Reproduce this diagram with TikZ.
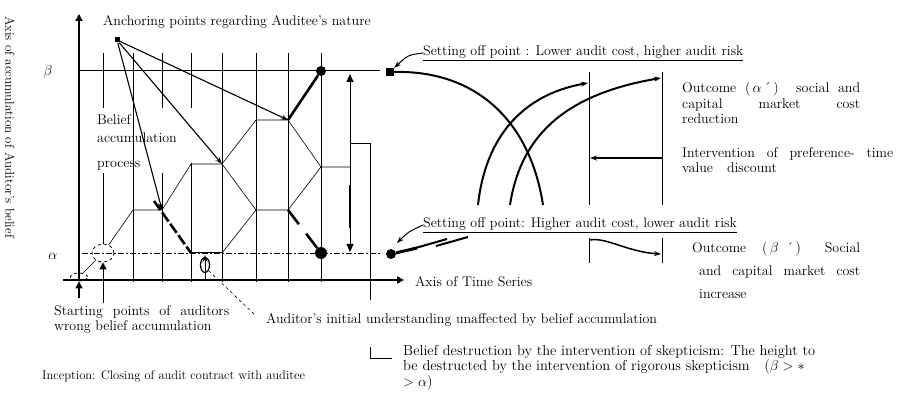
\documentclass[tikz,border=0pt]{standalone}
\usepackage{amsmath,amssymb}
\usetikzlibrary{arrows.meta,shapes.geometric,calc}
\begin{document}
\begin{tikzpicture}[x=1pt,y=-1pt,font=\fontsize{14}{15.5}\selectfont,>={Stealth[length=7pt,width=5pt]},
  lbl/.style={anchor=west,inner sep=0pt},
  blk/.style={anchor=north west,inner sep=0pt,align=justify},
  grid/.style={line width=1pt},
  zig/.style={line width=0.6pt},
  heavy/.style={line width=2.6pt},
  curve/.style={line width=2pt},
  tri/.style={-{Triangle[length=7pt,width=7pt]}},
  dot/.style={circle,fill,inner sep=0pt,minimum size=#1},
  ring/.style={draw,ellipse,inner sep=0pt,line width=0.8pt}]
\useasboundingbox (0,0) rectangle (899,395);
% axes and levels
\coordinate (xl) at (63,280); \coordinate (xr) at (404,280);
\coordinate (yb) at (79,280); \coordinate (yt) at (79,14);
\draw[line width=1.8pt,tri] (xl) -- (xr);
\draw[line width=1.3pt,tri] (yb) -- (yt);
\coordinate (bl) at (79,71); \coordinate (br) at (380,71);
\coordinate (al) at (82,253); \coordinate (ar) at (382,253);
\draw[grid] (bl) -- (br);
\draw[line width=0.9pt,dash pattern=on 6pt off 2pt on 2pt off 2pt] (al) -- (ar);
\foreach \x in {133,222,256,288,321} \draw[grid] (\x,53) -- (\x,282);
\foreach \x in {103,162,191} \draw[grid] (\x,53) -- (\x,108);
\draw[grid] (103,173) -- (103,244);
\draw[grid] (162,173) -- (162,282);
\draw[grid] (191,163) -- (191,282);
\node[font=\fontsize{14}{14}\selectfont] (beta) at (48,72) {$\beta$};
\node[font=\fontsize{14}{14}\selectfont] (alpha) at (53,256) {$\alpha$};
\node[rotate=-90,font=\fontsize{13}{14}\selectfont] (yax) at (10,127) {Axis of accumulation of Auditor's belief};
\node[lbl] (xax) at (415,282) {Axis of Time Series};
% belief accumulation path
\node[ring,dashed,minimum width=22pt,minimum height=18pt] (c1) at (103,253) {};
\node[ring,dashed,minimum width=17pt,minimum height=8pt] (c0) at (79,277) {};
\coordinate (z1) at (133,210); \coordinate (z2) at (162,210);
\coordinate (z3) at (191,164); \coordinate (z4) at (222,164);
\coordinate (z5) at (256,120); \coordinate (z6) at (288,120);
\coordinate (z7) at (321,167); \coordinate (z8) at (350,167);
\coordinate (z9) at (256,210); \coordinate (z10) at (288,210);
\coordinate (z11) at (222,253); \coordinate (z12) at (191,253);
\draw[zig] (c0) -- (c1) -- (z1) -- (z2) -- (z3) -- (z4) -- (z5) -- (z6) -- (z7) -- (z8);
\draw[zig] (z4) -- (z9) -- (z10) -- (z7);
\draw[zig] (z9) -- (z11);
\draw[grid] (z12) -- (z11);
\draw[line width=1.3pt,tri] (79,298) -- (c0.south);
\draw[grid,tri] (103,303) -- (c1.south);
% destruction by skepticism
\node[dot=10pt] (top) at (321,71) {};
\node[dot=12pt] (low) at (321,253) {};
\coordinate (hs) at (154,201);
\draw[heavy] (z6) -- (top);
\draw[heavy,dash pattern=on 11pt off 3pt] (hs) -- (z12);
\draw[heavy] (z10) -- ($(z10)!0.33!(low)$);
\draw[heavy] ($(z10)!0.55!(low)$) -- (low);
% anchoring
\node[fill,inner sep=0pt,minimum size=5pt] (anc) at (117,40) {};
\node[lbl] (anctxt) at (103,22) {Anchoring points regarding Auditee's nature};
\foreach \t in {z2,z4,z6} \draw[line width=1.1pt,->] (anc) -- (\t);
\node[anchor=north west,inner sep=0pt,align=left,font=\fontsize{14}{14}\selectfont] (proc) at (97,114) {Belief\\[4pt]accumulation\\[11pt]process};
% height to be destructed
\coordinate (da) at (350,252); \coordinate (db) at (350,74);
\draw[line width=1pt,{Triangle[length=8pt,width=7pt]}-{Triangle[length=8pt,width=7pt]}] (da) -- (db);
\draw[line width=2.6pt] (350,185) -- (350,228);
\draw[grid] (350,144) -- (370,144) -- (370,300);
\draw[grid] (370,347) -- (370,358) -- (392,358);
% initial understanding
\node[ring,line width=1.2pt,minimum width=9pt,minimum height=15pt] (ini) at (205,265) {};
\draw[line width=1pt,->] (205,281) -- (205,255);
\node[lbl] (initxt) at (266,320) {Auditor's initial understanding unaffected by belief accumulation};
\draw[zig,dashed] (ini.south east) -- ($(initxt.west)+(-11,-5)$);
\node[blk,text width=175pt] (start) at (54,305) {Starting points of auditors\linebreak wrong belief accumulation};
\node[lbl,font=\fontsize{12.5}{14}\selectfont] (incep) at (42,376) {Inception: Closing of audit contract with auditee};
\node[anchor=north west,inner sep=0pt,align=left,font=\fontsize{14.5}{15.5}\selectfont] (destr) at (403,345)
  {Belief destruction by the intervention of skepticism: The height to\\
   be destructed by the intervention of rigorous skepticism\quad($\beta>{\ast}$\\
   $>\alpha$)};
% setting off points
\node[fill,inner sep=0pt,minimum size=8pt] (sq) at (390,72) {};
\node[lbl] (lotxt) at (423,53) {\underline{Setting off point : Lower audit cost, higher audit risk}};
\draw[line width=1pt,->] (lotxt.west) .. controls (408,55) .. (sq.north east);
\node[dot=10pt] (sp) at (391,254) {};
\node[lbl] (hitxt) at (423,225) {\underline{Setting off point: Higher audit cost, lower audit risk}};
\coordinate (sp1) at (397,243);
\draw[line width=1pt,->] (hitxt.west) .. controls (408,232) .. (sp1);
\draw[line width=3pt] (sp) -- (417,248);
\draw[line width=2pt] (412,249) -- (447,239);
\draw[line width=2pt] (436,246) -- (468,237);
% outcome curves
\coordinate (k1) at (543,205); \coordinate (k2) at (478,205); \coordinate (k3) at (510,205);
\coordinate (a1) at (588,83); \coordinate (a2) at (661,78);
\draw[curve] (sq.east) .. controls (475,70) and (530,120) .. (k1);
\draw[curve,->] (k2) .. controls (485,140) and (520,95) .. (a1);
\draw[curve,->] (k3) .. controls (520,140) and (560,95) .. (a2);
\foreach \x in {589,662} {\draw[grid] (\x,72) -- (\x,205); \draw[grid] (\x,238) -- (\x,263);}
\coordinate (pr) at (662,158); \coordinate (pl) at (590,158);
\draw[line width=1.3pt,->] (pr) -- (pl);
\coordinate (ol) at (590,240); \coordinate (or) at (661,254);
\draw[line width=1.5pt,->] (ol) .. controls (606,237) and (628,252) .. (or);
\node[blk,text width=178pt] (outa) at (682,82) {Outcome\ (\,$\alpha$\,\'{}\,)\ \ social and\linebreak capital market cost\linebreak reduction};
\node[blk,text width=211pt] (pref) at (682,147) {Intervention of preference- time\linebreak value\quad discount};
\node[blk,text width=168pt,font=\fontsize{14}{23}\selectfont] (outb) at (692,242)
  {Outcome\ \ (\,$\beta$\ \'{}\,)\ \ \ Social\linebreak \hspace*{7pt}and capital market cost\linebreak \hspace*{7pt}increase};
\end{tikzpicture}
\end{document}
